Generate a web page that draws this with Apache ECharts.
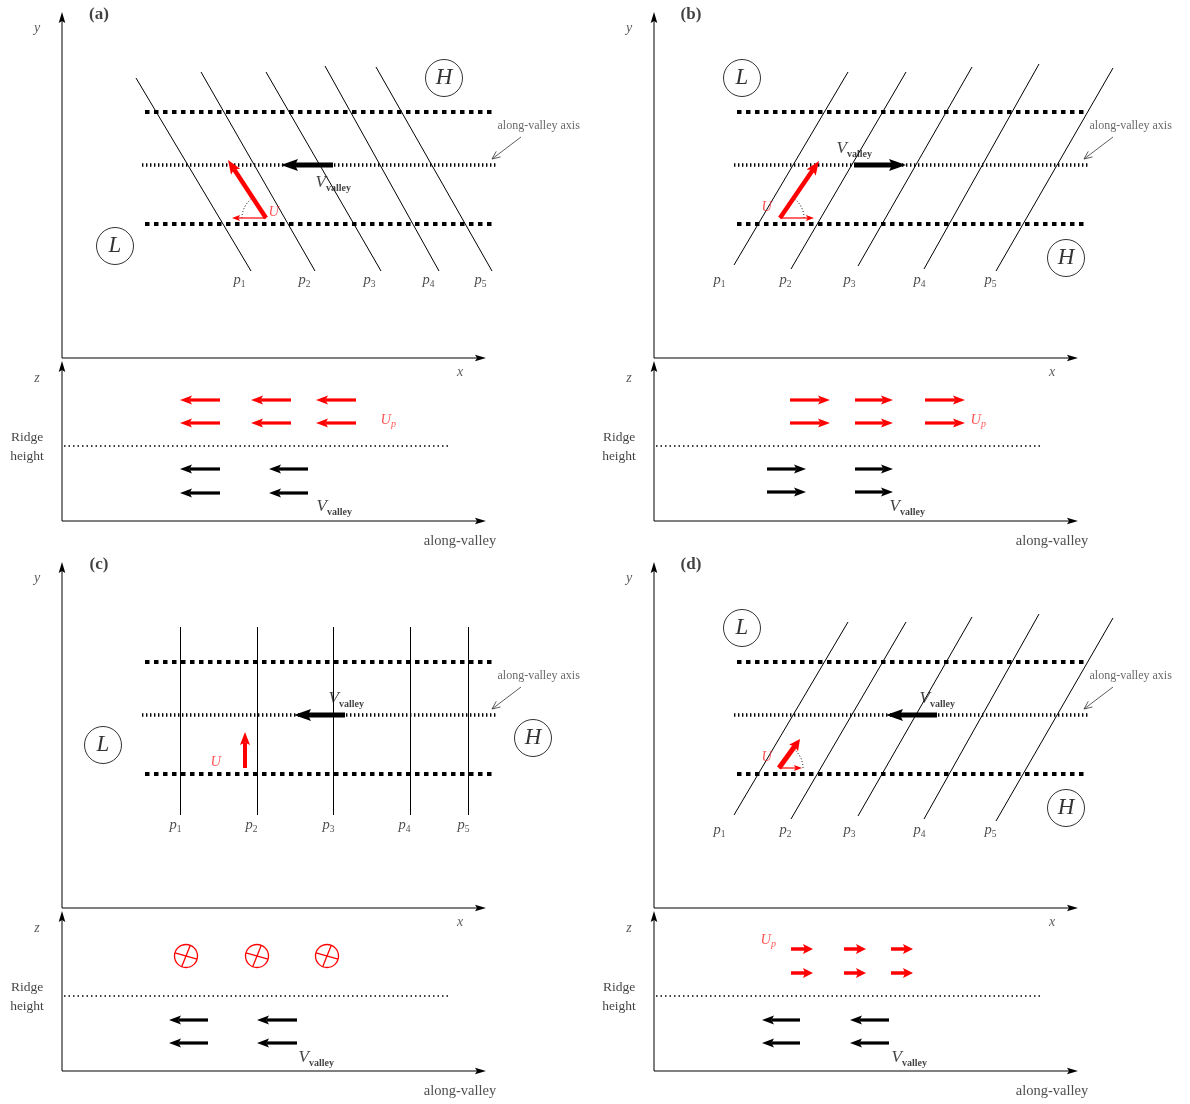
<!DOCTYPE html>
<html>
<head>
<meta charset="utf-8">
<script src="https://cdn.jsdelivr.net/npm/echarts@6/dist/echarts.min.js"></script>
<style>html,body{margin:0;padding:0;background:#fff}#c{width:1190px;height:1104px}</style>
</head>
<body>
<div id="c"></div>
<script>
// ---------------- DATA (panel-local units: x to the right, y downward) ----------------
const panelTags = ['(a)', '(b)', '(c)', '(d)'];
const isobarNames = ['1', '2', '3', '4', '5'];

// Common schematic elements (same in every panel)  [x1, y1, x2, y2]
const frameAxes   = [[62, 358, 62, 12], [62, 358, 486, 358], [62, 521, 62, 361], [62, 521, 486, 521]];
const dashedEdges = [[145, 112, 496, 112], [145, 224, 496, 224]];
const valleyAxis  = [[142, 165, 496, 165]];
const ridgeLine   = [[64, 446, 451, 446]];
const leaderLine  = [[521, 137, 492, 159]];
const axisNames   = [['y', 37, 28], ['x', 460, 372], ['z', 37, 378]];
const ridgeText   = [['Ridge', 27, 437], ['height', 27, 456]];
const alongText   = [['along-valley', 460, 541]];
const axisText    = [['along-valley axis', 497, 126]];
const tagPos      = [99, 15];

// Panel (a)
const isobarsA       = [[136, 78, 251, 271], [201, 72, 315, 271], [266, 72, 381, 271], [325, 66, 439, 271], [376, 67, 492, 271]];
const pLabelXA       = [233, 298, 363, 422, 474];
const highLowA       = [['H', 444, 78], ['L', 115, 246]];
const valleyWindA    = [[333, 165, 281, 165]];
const uArrowA        = [[266, 218, 228, 160]];
const uCompA         = [[266, 218, 232, 218]];
const uLabelA        = [268, 212];
const vLabelMapA     = [315, 183];
const aboveArrowsA   = [[220, 400, 180, 400], [291, 400, 251, 400], [356, 400, 316, 400],
                        [220, 423, 180, 423], [291, 423, 251, 423], [356, 423, 316, 423]];
const belowArrowsA   = [[220, 469, 180, 469], [308, 469, 269, 469], [220, 493, 180, 493], [308, 493, 269, 493]];
const upLabelA       = [380, 420];
const vLabelProfA    = [316, 507];

// Panel (b)
const isobarsB       = [[142, 265, 256, 72], [199, 269, 314, 72], [266, 266, 380, 67], [332, 269, 447, 64], [404, 271, 521, 68]];
const pLabelXB       = [121, 187, 251, 321, 392];
const highLowB       = [['L', 150, 78], ['H', 474, 258]];
const valleyWindB    = [[262, 165, 314, 165]];
const uArrowB        = [[188, 218, 227, 161]];
const uCompB         = [[188, 218, 222, 218]];
const uLabelB        = [169, 207];
const vLabelMapB     = [244, 149];
const aboveArrowsB   = [[198, 400, 238, 400], [263, 400, 301, 400], [333, 400, 373, 400],
                        [198, 423, 238, 423], [263, 423, 301, 423], [333, 423, 373, 423]];
const belowArrowsB   = [[175, 469, 214, 469], [263, 469, 301, 469], [175, 492, 214, 492], [263, 492, 301, 492]];
const upLabelB       = [378, 420];
const vLabelProfB    = [297, 507];

// Panel (c)
const isobarsC       = [[180, 77, 180, 265], [257, 77, 257, 265], [333, 77, 333, 265], [410, 77, 410, 265], [468, 77, 468, 265]];
const pLabelXC       = [169, 245, 322, 398, 457];
const highLowC       = [['L', 103, 195], ['H', 533, 188]];
const valleyWindC    = [[345, 165, 294, 165]];
const uArrowC        = [[245, 218, 245, 182]];
const uLabelC        = [210, 212];
const vLabelMapC     = [328, 149];
const crossesC       = [[186, 406], [257, 406], [327, 406]];
const belowArrowsC   = [[208, 470, 169, 470], [297, 470, 257, 470], [208, 493, 169, 493], [297, 493, 257, 493]];
const vLabelProfC    = [298, 508];

// Panel (d)
const isobarsD       = [[142, 265, 256, 72], [199, 269, 314, 72], [266, 266, 380, 67], [332, 269, 447, 64], [404, 271, 521, 68]];
const pLabelXD       = [121, 187, 251, 321, 392];
const highLowD       = [['L', 150, 78], ['H', 474, 258]];
const valleyWindD    = [[345, 165, 294, 165]];
const uArrowD        = [[187, 218, 208, 189]];
const uCompD         = [[187, 218, 210, 218]];
const uLabelD        = [169, 207];
const vLabelMapD     = [327, 149];
const aboveArrowsD   = [[199, 399, 221, 399], [252, 399, 274, 399], [299, 399, 321, 399],
                        [199, 423, 221, 423], [252, 423, 274, 423], [299, 423, 321, 423]];
const belowArrowsD   = [[208, 470, 170, 470], [297, 470, 258, 470], [208, 493, 170, 493], [297, 493, 258, 493]];
const upLabelD       = [168, 390];
const vLabelProfD    = [299, 508];

// ---------------- STYLE ----------------
const FONT = 'Liberation Serif';
const RED = '#ff0000';
const RED_TXT = '#ff2a2a';
const INK = '#111';

const rich = {
  it:   { fontFamily: FONT, fontStyle: 'italic', fontSize: 14.5, color: '#222' },
  sub:  { fontFamily: FONT, fontSize: 9.5, color: '#222', padding: [9, 0, 0, 0] },
  V:    { fontFamily: FONT, fontStyle: 'italic', fontSize: 17, color: INK },
  vsub: { fontFamily: FONT, fontWeight: 'bold', fontSize: 10, color: INK, padding: [10, 0, 0, 0] },
  U:    { fontFamily: FONT, fontStyle: 'italic', fontSize: 14.5, color: RED_TXT },
  Usub: { fontFamily: FONT, fontStyle: 'italic', fontSize: 10, color: RED_TXT, padding: [9, 0, 0, 0] }
};
const V_TXT = '{V|V}{vsub|valley}';
const U_TXT = '{U|U}';
const UP_TXT = '{U|U}{Usub|p}';

// ---------------- BUILDERS ----------------
const series = [];

function addLines(g, segs, style, z) {
  series.push({
    type: 'lines', coordinateSystem: 'cartesian2d', xAxisIndex: g, yAxisIndex: g,
    polyline: false, silent: true, clip: false, z: z || 2,
    lineStyle: Object.assign({ opacity: 1, curveness: 0, cap: 'butt' }, style),
    data: segs.map(s => ({ coords: [[s[0], s[1]], [s[2], s[3]]] }))
  });
}

function addArrows(g, segs, st) {
  series.push({
    type: 'custom', coordinateSystem: 'cartesian2d', xAxisIndex: g, yAxisIndex: g,
    silent: true, clip: false, z: st.z || 5,
    encode: { x: [0, 2], y: [1, 3] },
    data: segs,
    renderItem: function (params, api) {
      const a = api.coord([api.value(0), api.value(1)]);
      const b = api.coord([api.value(2), api.value(3)]);
      const dx = b[0] - a[0], dy = b[1] - a[1], len = Math.hypot(dx, dy) || 1;
      const ux = dx / len, uy = dy / len, nx = -uy, ny = ux;
      const L = st.head, W = st.half, N = st.notch || 0;
      const back = [b[0] - ux * L, b[1] - uy * L];
      const left = [back[0] + nx * W, back[1] + ny * W];
      const right = [back[0] - nx * W, back[1] - ny * W];
      const notch = [b[0] - ux * (L - N), b[1] - uy * (L - N)];
      const end = st.open ? b : notch;
      const children = [{
        type: 'line', shape: { x1: a[0], y1: a[1], x2: end[0], y2: end[1] },
        style: { stroke: st.color, lineWidth: st.width, lineCap: 'butt' }
      }];
      if (st.open) {
        children.push({ type: 'polyline', shape: { points: [left, b, right] },
          style: { stroke: st.color, lineWidth: st.width, fill: 'none' } });
      } else {
        children.push({ type: 'polygon', shape: { points: [b, left, notch, right] },
          style: { fill: st.color, stroke: 'none' } });
      }
      return { type: 'group', children: children };
    }
  });
}

// angle mark between the component arrow and the wind arrow (built from the arrow data)
function addAngleMark(g, comp, wind, radius) {
  const rows = comp.map((c, i) => [c[0], c[1], c[2], c[3], wind[i][2], wind[i][3]]);
  series.push({
    type: 'custom', coordinateSystem: 'cartesian2d', xAxisIndex: g, yAxisIndex: g,
    silent: true, clip: false, z: 4, encode: { x: [0], y: [1] }, data: rows,
    renderItem: function (params, api) {
      const o = api.coord([api.value(0), api.value(1)]);
      const p = api.coord([api.value(2), api.value(3)]);
      const q = api.coord([api.value(4), api.value(5)]);
      const a1 = Math.atan2(p[1] - o[1], p[0] - o[0]);
      const a2 = Math.atan2(q[1] - o[1], q[0] - o[0]);
      let d = a2 - a1;
      while (d > Math.PI) d -= 2 * Math.PI;
      while (d < -Math.PI) d += 2 * Math.PI;
      return {
        type: 'arc',
        shape: { cx: o[0], cy: o[1], r: radius, startAngle: a1, endAngle: a1 + d, clockwise: d > 0 },
        style: { stroke: '#000', lineWidth: 1, lineDash: [1, 2], fill: 'none' }
      };
    }
  });
}

function addCrosses(g, pts) {
  series.push({
    type: 'custom', coordinateSystem: 'cartesian2d', xAxisIndex: g, yAxisIndex: g,
    silent: true, clip: false, z: 5, encode: { x: 0, y: 1 }, data: pts,
    renderItem: function (params, api) {
      const c = api.coord([api.value(0), api.value(1)]);
      const r = 11.5;
      const t1 = 16 * Math.PI / 180, t2 = 112 * Math.PI / 180;
      const st = { stroke: RED, lineWidth: 1.3, fill: 'none' };
      return { type: 'group', children: [
        { type: 'circle', shape: { cx: c[0], cy: c[1], r: r }, style: st },
        { type: 'line', shape: { x1: c[0] - r * Math.cos(t1), y1: c[1] - r * Math.sin(t1), x2: c[0] + r * Math.cos(t1), y2: c[1] + r * Math.sin(t1) }, style: st },
        { type: 'line', shape: { x1: c[0] - r * Math.cos(t2), y1: c[1] - r * Math.sin(t2), x2: c[0] + r * Math.cos(t2), y2: c[1] + r * Math.sin(t2) }, style: st }
      ] };
    }
  });
}

// items: [[text, x, y], ...]
function addText(g, items, pos, style) {
  series.push({
    type: 'scatter', xAxisIndex: g, yAxisIndex: g, silent: true, clip: false, z: 10,
    symbolSize: 1, itemStyle: { color: 'rgba(0,0,0,0)' },
    label: Object.assign({ show: true, position: pos, distance: 0, rich: rich }, style || {}),
    data: items.map(t => ({ value: [t[1], t[2]], label: { formatter: t[0] } }))
  });
}

function addCircles(g, items) {
  series.push({
    type: 'scatter', xAxisIndex: g, yAxisIndex: g, silent: true, clip: false, z: 6,
    symbol: 'circle', symbolSize: 37,
    itemStyle: { color: '#fff', borderColor: '#000', borderWidth: 1 },
    label: { show: true, position: 'inside', fontFamily: FONT, fontStyle: 'italic', fontSize: 23, color: '#000' },
    data: items.map(t => ({ value: [t[1], t[2]], label: { formatter: t[0] } }))
  });
}

// ---------------- PANEL TABLE ----------------
const panels = [
  { g: 0, tag: panelTags[0], isobars: isobarsA, pX: pLabelXA, pY: 280, hl: highLowA, wind: valleyWindA,
    u: uArrowA, comp: uCompA, uLab: uLabelA, vLab: vLabelMapA, above: aboveArrowsA, below: belowArrowsA,
    upLab: upLabelA, vProf: vLabelProfA, uHead: { width: 4.5, head: 14, half: 5.5, notch: 3 },
    aboveHead: { width: 3.2, head: 12, half: 4.5, notch: 2.5 } },
  { g: 1, tag: panelTags[1], isobars: isobarsB, pX: pLabelXB, pY: 280, hl: highLowB, wind: valleyWindB,
    u: uArrowB, comp: uCompB, uLab: uLabelB, vLab: vLabelMapB, above: aboveArrowsB, below: belowArrowsB,
    upLab: upLabelB, vProf: vLabelProfB, uHead: { width: 4.5, head: 14, half: 5.5, notch: 3 },
    aboveHead: { width: 3.2, head: 12, half: 4.5, notch: 2.5 } },
  { g: 2, tag: panelTags[2], isobars: isobarsC, pX: pLabelXC, pY: 275, hl: highLowC, wind: valleyWindC,
    u: uArrowC, comp: null, uLab: uLabelC, vLab: vLabelMapC, above: null, crosses: crossesC, below: belowArrowsC,
    upLab: null, vProf: vLabelProfC, uHead: { width: 4, head: 13, half: 5, notch: 2.5 } },
  { g: 3, tag: panelTags[3], isobars: isobarsD, pX: pLabelXD, pY: 280, hl: highLowD, wind: valleyWindD,
    u: uArrowD, comp: uCompD, uLab: uLabelD, vLab: vLabelMapD, above: aboveArrowsD, below: belowArrowsD,
    upLab: upLabelD, vProf: vLabelProfD, uHead: { width: 5, head: 11, half: 5.5, notch: 2 },
    aboveHead: { width: 3.5, head: 10, half: 5, notch: 2 } }
];

const grids = [], xAxes = [], yAxes = [];
panels.forEach(p => {
  const g = p.g;
  grids.push({ left: (g % 2) * 592, top: Math.floor(g / 2) * 550, width: 592, height: 550, containLabel: false });
  xAxes.push({ gridIndex: g, type: 'value', min: 0, max: 592, show: false });
  yAxes.push({ gridIndex: g, type: 'value', min: 0, max: 550, inverse: true, show: false });

  // frame axes with arrow heads
  addArrows(g, frameAxes, { color: '#000', width: 1, head: 11, half: 3.3, notch: 2 });
  // map view
  addLines(g, p.isobars, { color: '#000', width: 1 }, 2);
  addLines(g, dashedEdges, { color: '#000', width: 4, type: [4.5, 4.5] }, 3);
  addLines(g, valleyAxis, { color: '#000', width: 3.5, type: [1.4, 2.6] }, 3);
  addArrows(g, leaderLine, { color: '#333', width: 0.8, head: 8, half: 3.5, open: true });
  addArrows(g, p.wind, { color: '#000', width: 5, head: 17, half: 6, notch: 3, z: 6 });
  addArrows(g, p.u, Object.assign({ color: RED, z: 7 }, p.uHead));
  if (p.comp) {
    addArrows(g, p.comp, { color: RED, width: 1.2, head: 8, half: 3, notch: 1.5, z: 7 });
    addAngleMark(g, p.comp, p.u, 24);
  }
  addCircles(g, p.hl);
  addText(g, p.pX.map((x, i) => ['{it|p}{sub|' + isobarNames[i] + '}', x, p.pY]), 'right');
  addText(g, [[V_TXT, p.vLab[0], p.vLab[1]], [U_TXT, p.uLab[0], p.uLab[1]]], 'right');
  addText(g, axisText, 'right', { fontFamily: FONT, fontSize: 12, color: '#444' });
  addText(g, [[p.tag, tagPos[0], tagPos[1]]], 'inside', { fontFamily: FONT, fontSize: 17, fontWeight: 'bold', color: '#111' });
  addText(g, axisNames, 'inside', { fontFamily: FONT, fontStyle: 'italic', fontSize: 14, color: '#333' });

  // vertical profile
  addLines(g, ridgeLine, { color: '#000', width: 1.6, type: [1.5, 3] }, 3);
  if (p.above) addArrows(g, p.above, Object.assign({ color: RED }, p.aboveHead));
  if (p.crosses) addCrosses(g, p.crosses);
  addArrows(g, p.below, { color: '#000', width: 3.2, head: 12, half: 4.5, notch: 2.5 });
  if (p.upLab) addText(g, [[UP_TXT, p.upLab[0], p.upLab[1]]], 'right');
  addText(g, [[V_TXT, p.vProf[0], p.vProf[1]]], 'right');
  addText(g, ridgeText, 'inside', { fontFamily: FONT, fontSize: 13.5, color: '#111' });
  addText(g, alongText, 'inside', { fontFamily: FONT, fontSize: 14.5, color: '#222' });
});

const chart = echarts.init(document.getElementById('c'), null, { renderer: 'canvas' });
chart.setOption({
  backgroundColor: '#fff',
  animation: false,
  grid: grids,
  xAxis: xAxes,
  yAxis: yAxes,
  series: series
});
</script>
</body>
</html>
